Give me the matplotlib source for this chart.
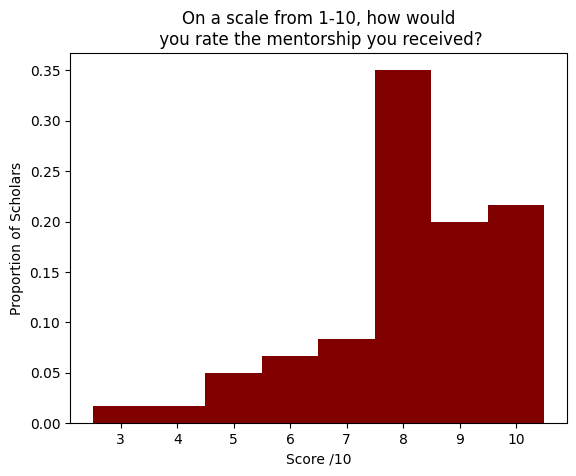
import matplotlib
matplotlib.use("Agg")
import matplotlib.pyplot as plt
import numpy as np

scores = [3, 4, 5, 6, 7, 8, 9, 10]
counts = [1, 1, 3, 4, 5, 21, 12, 13]
total = sum(counts)
proportions = [c / total for c in counts]

fig, ax = plt.subplots(figsize=(5.76, 4.76), dpi=100)
ax.bar(scores, proportions, width=1.0, color="maroon")
ax.set_xticks(scores)
ax.set_xlabel("Score /10")
ax.set_ylabel("Proportion of Scholars")
ax.set_title("On a scale from 1-10, how would\n you rate the mentorship you received?")
fig.subplots_adjust(left=0.1215, right=0.984, bottom=0.111, top=0.889)
fig.savefig("out.png", dpi=100)
